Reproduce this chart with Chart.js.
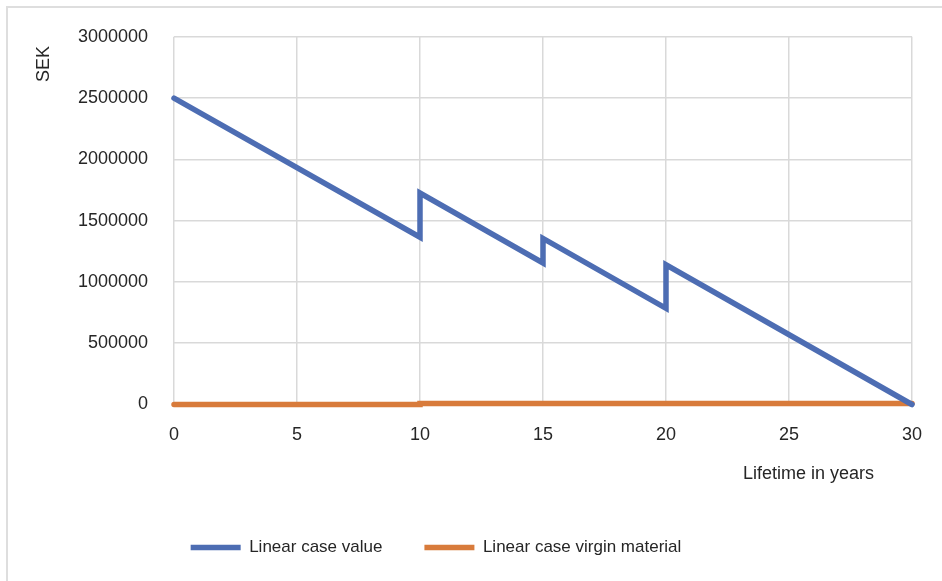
<!DOCTYPE html>
<html>
<head>
<meta charset="utf-8">
<script src="https://cdn.jsdelivr.net/npm/chart.js@4.4.1/dist/chart.umd.min.js"></script>
<style>
    html, body { margin: 0; padding: 0; background: #fff; overflow: hidden; }
    #wrap { position: relative; width: 942px; height: 581px; }
    #frame {
        position: absolute; left: 6px; top: 6px; width: 1000px; height: 1000px;
        border: 2px solid #dedede; box-sizing: border-box;
    }
    #myChart { position: absolute; left: 0; top: 0; }
</style>
</head>
<body>
<div id="wrap">
    <div id="frame"></div>
    <canvas id="myChart" width="942" height="581"></canvas>
</div>
<script>
// values (SEK over lifetime in years)
const valueYears = [0, 10, 10, 15, 15, 20, 20, 30];
const valueSEK = [2500000, 1365000, 1725000, 1155000, 1355000, 785000, 1140000, 0];
const virginYears = [0, 10, 10, 30];
const virginSEK = [0, 0, 8000, 8000];
const xTicks = [0, 5, 10, 15, 20, 25, 30];
const yTicks = [0, 500000, 1000000, 1500000, 2000000, 2500000, 3000000];

const seriesNames = ["Linear case value", "Linear case virgin material"];
const xTitle = "Lifetime in years";
const yTitle = "SEK";

const FONT = "'Liberation Sans', Arial, sans-serif";
Chart.defaults.font.family = FONT;
Chart.defaults.color = "#262626";

const toPoints = (xs, ys) => xs.map((x, i) => ({ x: x, y: ys[i] }));

// axis titles drawn where the original puts them, legend nudged into place
const extras = {
    id: "extras",
    afterUpdate(chart) {
        const lg = chart.legend;
        lg.left = 0;
        lg.right = 872;
        lg.top = 497;
        lg.bottom = 569;
    },
    afterDraw(chart) {
        const ctx = chart.ctx;
        ctx.save();
        ctx.fillStyle = "#262626";
        ctx.font = "18px " + FONT;
        ctx.textBaseline = "middle";
        ctx.textAlign = "right";
        ctx.fillText(xTitle, 874, 474);
        ctx.translate(44, 64);
        ctx.rotate(-Math.PI / 2);
        ctx.textAlign = "center";
        ctx.fillText(yTitle, 0, 0);
        ctx.restore();
    }
};

const ctx = document.getElementById("myChart").getContext("2d");
new Chart(ctx, {
    type: "line",
    data: {
        datasets: [
            {
                label: seriesNames[0],
                data: toPoints(valueYears, valueSEK),
                borderColor: "#4d6db3",
                backgroundColor: "#4d6db3",
                borderWidth: 5.5,
                borderCapStyle: "round",
                borderJoinStyle: "miter",
                pointRadius: 0,
                tension: 0,
                clip: false,
            },
            {
                label: seriesNames[1],
                data: toPoints(virginYears, virginSEK),
                borderColor: "#d87b3b",
                backgroundColor: "#d87b3b",
                borderWidth: 5.5,
                borderCapStyle: "round",
                pointRadius: 0,
                tension: 0,
                clip: false,
            },
        ],
    },
    options: {
        responsive: false,
        animation: false,
        layout: { padding: { left: 0, right: 28, top: 34, bottom: 0 } },
        plugins: {
            tooltip: { enabled: false },
            legend: {
                position: "bottom",
                labels: {
                    usePointStyle: true,
                    pointStyle: "line",
                    pointStyleWidth: 50,
                    boxHeight: 17,
                    padding: 42,
                    font: { size: 17 },
                    color: "#262626",
                },
            },
        },
        scales: {
            x: {
                type: "linear",
                min: xTicks[0],
                max: xTicks[xTicks.length - 1],
                afterBuildTicks: (s) => { s.ticks = xTicks.map(v => ({ value: v })); },
                afterFit: (s) => { s.height = 107.5; },
                grid: { color: "#d9d9d9", lineWidth: 1.5, drawTicks: false },
                border: { display: false },
                ticks: { padding: 20, font: { size: 18 }, callback: (v) => String(v) },
            },
            y: {
                min: yTicks[0],
                max: yTicks[yTicks.length - 1],
                afterBuildTicks: (s) => { s.ticks = yTicks.map(v => ({ value: v })); },
                afterFit: (s) => { s.width = 174; },
                grid: { color: "#d9d9d9", lineWidth: 1.5, drawTicks: false },
                border: { display: false },
                ticks: { padding: 26, font: { size: 18 }, callback: (v) => String(v) },
            },
        },
    },
    plugins: [extras],
});
</script>
</body>
</html>
